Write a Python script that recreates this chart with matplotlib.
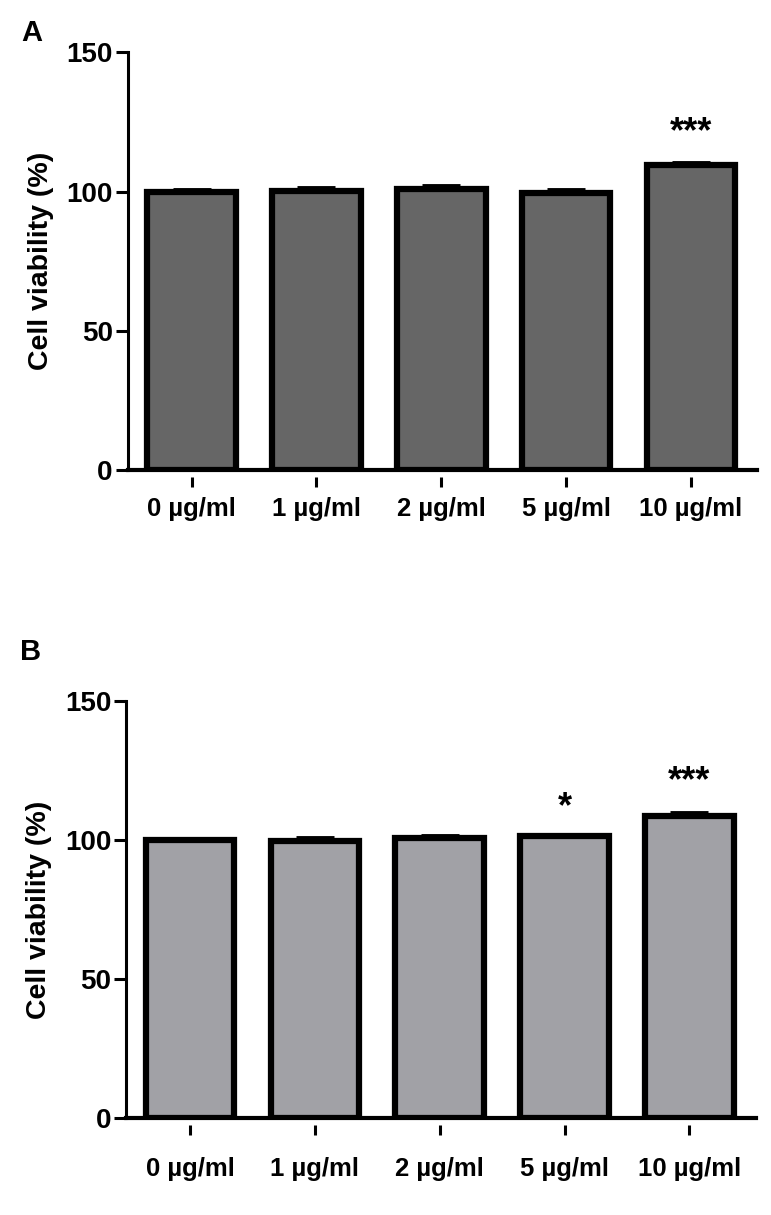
# Cell viability bar charts, panels A and B

import matplotlib.pyplot as plt
import numpy as np

plt.rcParams['font.family'] = ['Liberation Sans', 'DejaVu Sans']
plt.rcParams['font.weight'] = 'bold'

# Data:
labels = ["0 µg/ml", "1 µg/ml", "2 µg/ml", "5 µg/ml", "10 µg/ml"]
viability_a = [100.0, 100.2, 100.9, 99.4, 109.4]
error_a = [0.5, 1.0, 1.0, 1.0, 1.0]
stars_a = ["", "", "", "", "***"]
star_y_a = [0, 0, 0, 0, 121]

viability_b = [100.0, 99.8, 100.6, 101.3, 108.8]
error_b = [0.4, 0.8, 0.8, 0.5, 0.9]
stars_b = ["", "", "", "*", "***"]
star_y_b = [0, 0, 0, 111.5, 121]

fig = plt.figure(figsize=(7.71, 12.15), dpi=100)
ax_a = fig.add_axes([0.166, 0.613, 0.816, 0.344])
ax_b = fig.add_axes([0.164, 0.080, 0.816, 0.343])


def draw_panel(ax, values, errors, stars, star_y, color, letter, label_pad, letter_y):
    x = np.arange(len(labels))
    ax.bar(x, values, width=0.71, color=color, edgecolor='black',
           linewidth=4.5, zorder=2)
    ax.errorbar(x, values, yerr=[np.zeros(len(errors)), errors], fmt='none',
                ecolor='black', elinewidth=3, capsize=14, capthick=3.5, zorder=3)
    for xi, sy, s in zip(x, star_y, stars):
        if s:
            ax.text(xi, sy, s, ha='center', va='center', fontsize=26,
                    fontweight='bold')

    ax.set_xlim(-0.51, 4.53)
    ax.set_ylim(0, 150)
    ax.set_yticks([0, 50, 100, 150])
    ax.set_xticks(x)
    ax.set_xticklabels(labels)
    ax.set_ylabel("Cell viability (%)", fontsize=20.5, fontweight='bold')
    ax.yaxis.set_label_coords(-0.118, 0.5)

    ax.spines['top'].set_visible(False)
    ax.spines['right'].set_visible(False)
    ax.spines['left'].set_linewidth(2.2)
    # ticks sit below the axis line with a small gap
    ax.spines['bottom'].set_position(('outward', 5))
    ax.spines['bottom'].set_visible(False)
    ax.axhline(0, color='black', linewidth=3, clip_on=False, zorder=4)

    ax.tick_params(axis='y', direction='out', length=9, width=2.2,
                   labelsize=20, pad=2)
    ax.tick_params(axis='x', direction='out', length=7, width=2.2,
                   labelsize=18.5, pad=label_pad)
    for t in ax.get_yticklabels() + ax.get_xticklabels():
        t.set_fontweight('bold')

    ax.text(-0.153, letter_y, letter, transform=ax.transAxes, fontsize=21,
            fontweight='bold', ha='center', va='center')


draw_panel(ax_a, viability_a, error_a, stars_a, star_y_a, '#666666', 'A', 7, 1.045)
draw_panel(ax_b, viability_b, error_b, stars_b, star_y_b, '#a1a1a6', 'B', 16, 1.118)

plt.savefig("out.png", dpi=100)
